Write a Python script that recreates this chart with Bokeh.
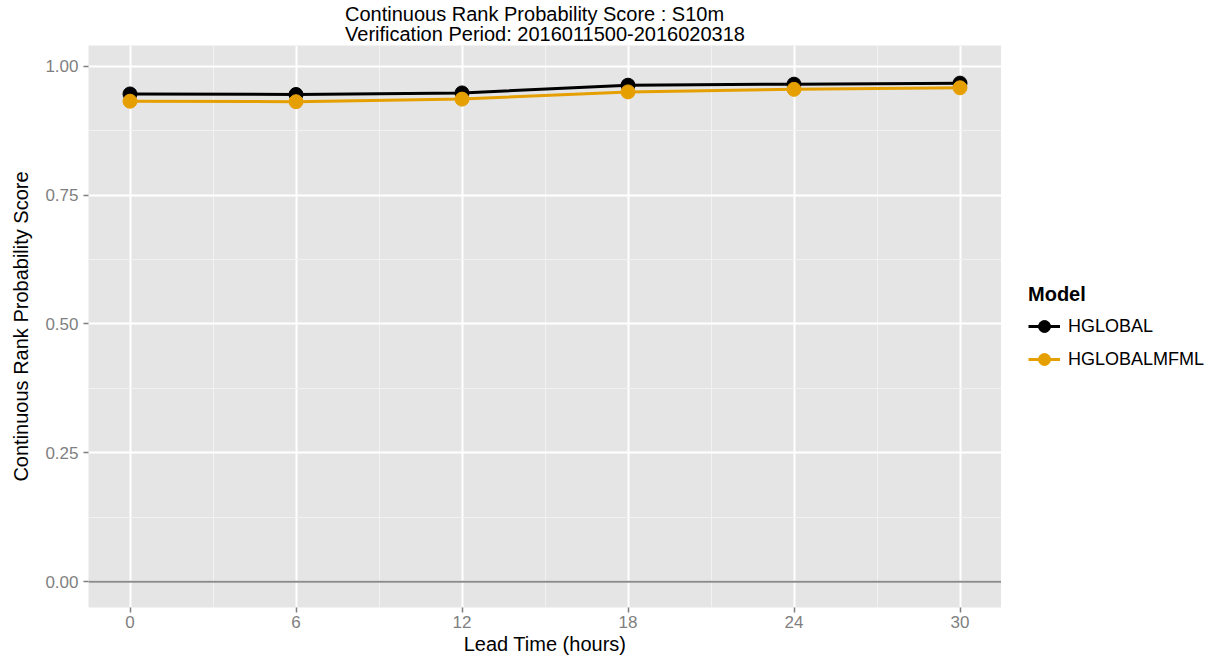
from bokeh.plotting import figure
from bokeh.layouts import row
from bokeh.models import FixedTicker, PrintfTickFormatter, Span, Legend, LegendItem
from bokeh.embed import file_html
from bokeh.resources import INLINE

lead_times = [0, 6, 12, 18, 24, 30]
hglobal = [0.946, 0.945, 0.948, 0.963, 0.965, 0.967]
hglobalmfml = [0.932, 0.931, 0.936, 0.950, 0.955, 0.958]
series_names = ["HGLOBAL", "HGLOBALMFML"]
series_colors = ["#000000", "#E69F00"]
x_ticks = [0, 6, 12, 18, 24, 30]
x_minor = [3, 9, 15, 21, 27]
y_ticks = [0.0, 0.25, 0.5, 0.75, 1.0]
y_minor = [0.125, 0.375, 0.625, 0.875]

FONT = "Liberation Sans"
FW, FH = 913, 562

p = figure(frame_width=FW, frame_height=FH, output_backend="svg", toolbar_location=None,
           x_range=(-1.5, 31.5), y_range=(-0.05, 1.04),
           title="Continuous Rank Probability Score : S10m\nVerification Period: 2016011500-2016020318",
           min_border_left=88, min_border_right=0, min_border_top=0, min_border_bottom=0)

p.background_fill_color = "#E5E5E5"
p.border_fill_color = "white"
p.outline_line_color = None

p.title.align = "center"
p.title.text_font = FONT
p.title.text_font_size = "20px"
p.title.text_font_style = "normal"
p.title.text_color = "black"
p.title.text_line_height = 0.95
p.title.offset = 0
p.title.standoff = 0

p.xaxis.ticker = FixedTicker(ticks=x_ticks, minor_ticks=x_minor)
p.yaxis.ticker = FixedTicker(ticks=y_ticks, minor_ticks=y_minor)
p.yaxis.formatter = PrintfTickFormatter(format="%.2f")

for ax in (p.xaxis, p.yaxis):
    ax.axis_line_color = None
    ax.major_tick_line_color = "#7F7F7F"
    ax.major_tick_line_width = 1.5
    ax.major_tick_out = 5
    ax.major_tick_in = 0
    ax.minor_tick_out = 0
    ax.minor_tick_in = 0
    ax.major_label_text_font = FONT
    ax.major_label_text_font_size = "17px"
    ax.major_label_text_color = "#7F7F7F"
    ax.axis_label_text_font = FONT
    ax.axis_label_text_font_size = "20px"
    ax.axis_label_text_font_style = "normal"
    ax.axis_label_text_color = "black"
    ax.major_label_standoff = 3
    ax.axis_label_standoff = 2

p.xaxis.axis_label = "Lead Time (hours)"
p.yaxis.axis_label = "Continuous Rank Probability Score"
p.yaxis.major_label_standoff = 5
p.yaxis.axis_label_standoff = 10

for g in (p.xgrid, p.ygrid):
    g.grid_line_color = "white"
    g.grid_line_width = 2
    g.minor_grid_line_color = "#F2F2F2"
    g.minor_grid_line_width = 1

p.add_layout(Span(location=0, dimension="width", line_color="#8C8C8C", line_width=2))

# legend holder figure (its renderers lie outside its visible range; only the legend shows)
lg = figure(width=206, height=645, output_backend="svg", toolbar_location=None,
            x_axis_type=None, y_axis_type=None, x_range=(100, 101), y_range=(100, 101),
            min_border_left=0, min_border_right=0, min_border_top=0, min_border_bottom=0)
lg.background_fill_color = "white"
lg.border_fill_color = "white"
lg.outline_line_color = None
lg.xgrid.visible = False
lg.ygrid.visible = False

items = []
for vals, name, col in zip([hglobal, hglobalmfml], series_names, series_colors):
    p.line(lead_times, vals, line_color=col, line_width=3)
    p.scatter(lead_times, vals, size=14, fill_color=col, line_color=col)
    k1 = lg.line(lead_times, vals, line_color=col, line_width=3)
    k2 = lg.scatter(lead_times, vals, size=14, fill_color=col, line_color=col)
    items.append(LegendItem(label=name, renderers=[k1, k2]))

legend = Legend(items=items, location=(27, 221), title="Model",
                title_text_font=FONT, title_text_font_size="20px", title_text_font_style="bold",
                title_text_color="black",
                label_text_font=FONT, label_text_font_size="18px", label_text_color="black",
                glyph_width=32, glyph_height=30, label_standoff=8, spacing=3,
                border_line_color=None, background_fill_alpha=0, margin=0, padding=6)
lg.add_layout(legend)

layout = row(p, lg)
open("out.html", "w").write(file_html(layout, INLINE))
